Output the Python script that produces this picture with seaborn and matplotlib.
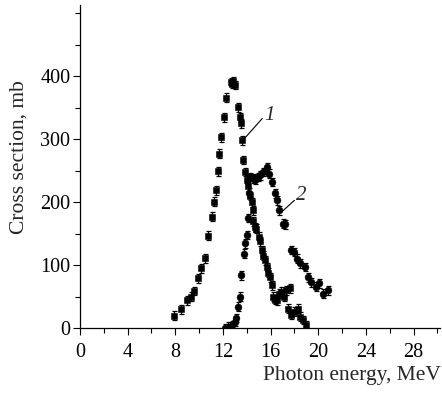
import matplotlib
matplotlib.use("Agg")
import matplotlib.pyplot as plt
import seaborn as sns
import pandas as pd
from matplotlib.ticker import MultipleLocator

# ---- data ----
e1 = [7.85, 8.47, 9.02, 9.3, 9.6, 9.94, 10.17, 10.5, 10.78, 11.11, 11.28, 11.4,
      11.56, 11.7, 11.84, 12.09, 12.26, 12.65, 12.75, 12.85, 13.0,
      13.29, 13.43, 13.5, 13.57, 13.7, 13.85, 14.0, 14.13, 14.3, 14.4, 14.5,
      14.55, 14.65, 14.8, 15.0, 15.1, 15.25, 15.4, 15.5, 15.67, 15.8, 15.94,
      16.08, 16.2, 16.35, 16.5, 16.7, 16.9, 17.1, 17.3, 17.6, 17.45, 17.75,
      18.0, 18.3, 18.45, 18.7, 18.95]
s1 = [20, 30, 44, 50, 59, 79, 95, 111, 147, 177, 201, 219,
      249, 277, 303, 335, 366, 391, 388, 392, 386,
      351, 335, 325, 298, 267, 248, 236, 225, 210, 200, 187,
      170, 160, 158, 145, 138, 124, 115, 108, 97, 88, 81,
      68, 50, 45, 44, 55, 58, 50, 60, 63, 31, 21,
      26, 31, 18, 13, 5]

e2 = [12.2, 12.45, 12.75, 13.0, 13.1, 13.3, 13.4, 13.55, 13.75, 13.85, 14.0,
      14.1, 14.2, 14.27, 14.5, 14.7, 14.9, 15.1, 15.4, 15.67, 15.9, 16.08,
      16.36, 16.5, 16.72, 17.06, 17.2, 17.75, 18.0, 18.2, 18.45, 18.87,
      19.15, 19.43, 19.85, 20.1, 20.4, 20.8]
s2 = [0, 2, 5, 10, 16, 34, 50, 84, 118, 135, 148,
      175, 215, 240, 238, 236, 240, 243, 248, 256, 245, 232,
      214, 203, 187, 166, 165, 124, 121, 110, 103, 97,
      81, 73, 66, 71, 55, 60]

x_ticks = [0, 4, 8, 12, 16, 20, 24, 28]
y_ticks = [0, 100, 200, 300, 400]

df1 = pd.DataFrame({"E": e1, "sigma": s1})
df2 = pd.DataFrame({"E": e2, "sigma": s2})

sns.set_style("ticks")
plt.rcParams["font.family"] = ["Liberation Serif", "DejaVu Serif"]

fig = plt.figure(figsize=(4.42, 3.93), dpi=100)
ax = fig.add_axes([0.181, 0.165, 0.814, 0.822])

err = 7
ax.errorbar(df1["E"], df1["sigma"], yerr=err, fmt="none", ecolor="black",
            elinewidth=0.9, capsize=1.8, capthick=0.9, zorder=2)
ax.errorbar(df2["E"], df2["sigma"], yerr=err, fmt="none", ecolor="black",
            elinewidth=0.9, capsize=1.8, capthick=0.9, zorder=2)
sns.scatterplot(data=df1, x="E", y="sigma", marker="s", s=22, color="black",
                edgecolor="black", linewidth=0.4, ax=ax, zorder=3)
sns.scatterplot(data=df2, x="E", y="sigma", marker="o", s=24, color="black",
                edgecolor="black", linewidth=0.4, ax=ax, zorder=3)

ax.set_xlim(0, 30.2)
ax.set_ylim(0, 513)
ax.set_xticks(x_ticks)
ax.set_yticks(y_ticks)
ax.xaxis.set_minor_locator(MultipleLocator(2))
ax.yaxis.set_minor_locator(MultipleLocator(50))
ax.tick_params(axis="x", which="major", pad=6)
ax.tick_params(axis="y", which="major", pad=2)
ax.tick_params(axis="both", which="major", direction="out", length=5,
               width=0.8, labelsize=14.5, colors="black")
ax.tick_params(axis="both", which="minor", direction="out", length=3.5,
               width=0.8, colors="black")
for side in ["top", "right"]:
    ax.spines[side].set_visible(False)
for side in ["left", "bottom"]:
    ax.spines[side].set_linewidth(0.9)
    ax.spines[side].set_color("black")

ax.set_xlabel("")
ax.set_ylabel("")
fig.text(0.998, 0.02, "Photon energy, MeV", ha="right", va="bottom",
         fontsize=15.5)
fig.text(0.042, 0.6, "Cross section, mb", rotation=90, ha="center",
         va="center", fontsize=15.5)

# curve labels
ax.plot([13.75, 15.3], [300, 333], color="black", lw=0.8)
ax.text(15.45, 338, "1", fontsize=15, style="italic", ha="left", va="center")
ax.plot([16.95, 18.0], [185, 203], color="black", lw=0.8)
ax.text(18.1, 210, "2", fontsize=15, style="italic", ha="left", va="center")

fig.savefig("out.png", dpi=100)
